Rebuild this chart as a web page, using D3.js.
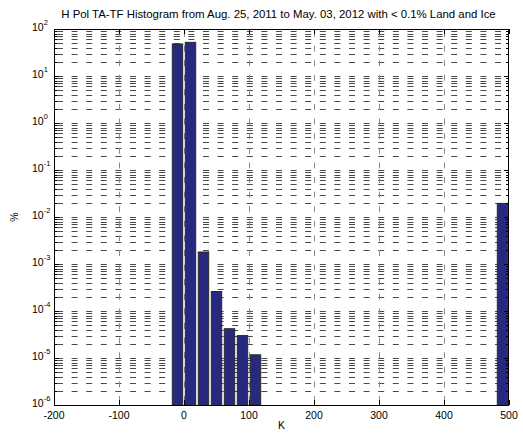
<!DOCTYPE html>
<html><head><meta charset="utf-8">
<script src="https://cdn.jsdelivr.net/npm/d3@7"></script>
<style>
html,body{margin:0;padding:0;background:#fff;}
svg{display:block;font-family:"Liberation Sans",Arial,sans-serif;}
</style></head>
<body>
<svg id="chart" width="523" height="435"></svg>
<script>
// Data
const binCenters = [-10, 10, 30, 50, 70, 90, 110, 490];
const percentValues = [48, 52, 1.8e-3, 2.6e-4, 4.2e-5, 3.0e-5, 1.17e-5, 1.95e-2];
const xTicks = [-200, -100, 0, 100, 200, 300, 400, 500];
const yDecades = [-6, -5, -4, -3, -2, -1, 0, 1, 2];
const titleText = "H Pol TA-TF Histogram from Aug. 25, 2011 to May. 03, 2012 with < 0.1% Land and Ice";
const xLabel = "K";
const yLabel = "%";
const binWidth = 20;

const svg = d3.select("#chart");
const L = 54, R = 509, T = 29, B = 405;
const x = d3.scaleLinear().domain([-200, 500]).range([L, R]);
const y = d3.scaleLog().domain([1e-6, 100]).range([B, T]);

const minor = [];
for (let e = -6; e < 2; e++) for (let m = 2; m <= 9; m++) minor.push(m * Math.pow(10, e));
const major = yDecades.map(e => Math.pow(10, e)).filter(v => v > 1e-6 && v < 100);

const g = svg.append("g");
g.selectAll("line.hg").data(minor.concat(major)).enter().append("line")
  .attr("x1", L + 3).attr("x2", R)
  .attr("y1", d => Math.round(y(d)) + 0.5).attr("y2", d => Math.round(y(d)) + 0.5)
  .attr("stroke", "#4a4a4a").attr("stroke-width", 1)
  .attr("stroke-dasharray", "6,8.6");
g.selectAll("line.vg").data(xTicks.slice(1, -1)).enter().append("line")
  .attr("x1", d => Math.round(x(d)) + 0.5).attr("x2", d => Math.round(x(d)) + 0.5)
  .attr("y1", T + 2).attr("y2", B)
  .attr("stroke", "#8a8a8a").attr("stroke-width", 1)
  .attr("stroke-dasharray", "6,8.6");

const halfW = binWidth * 0.4;
g.selectAll("rect.bar").data(binCenters.map((c, i) => ({c, v: percentValues[i]}))).enter().append("rect")
  .attr("x", d => x(d.c - halfW))
  .attr("width", d => x(d.c + halfW) - x(d.c - halfW))
  .attr("y", d => y(d.v))
  .attr("height", d => B - y(d.v))
  .attr("fill", "#27297f").attr("stroke", "#2b2b2b").attr("stroke-width", 1);

const tk = svg.append("g").attr("stroke", "#000").attr("stroke-width", 1);
minor.forEach(v => {
  const yy = Math.round(y(v)) + 0.5;
  tk.append("line").attr("x1", L).attr("x2", L + 3).attr("y1", yy).attr("y2", yy);
  tk.append("line").attr("x1", R - 3).attr("x2", R).attr("y1", yy).attr("y2", yy);
});
major.forEach(v => {
  const yy = Math.round(y(v)) + 0.5;
  tk.append("line").attr("x1", L).attr("x2", L + 5).attr("y1", yy).attr("y2", yy);
  tk.append("line").attr("x1", R - 5).attr("x2", R).attr("y1", yy).attr("y2", yy);
});
xTicks.forEach(v => {
  const xx = Math.round(x(v)) + 0.5;
  tk.append("line").attr("x1", xx).attr("x2", xx).attr("y1", B).attr("y2", B - 5);
  tk.append("line").attr("x1", xx).attr("x2", xx).attr("y1", T).attr("y2", T + 5);
});

svg.append("rect").attr("x", L + 0.5).attr("y", T + 0.5).attr("width", R - L - 1).attr("height", B - T)
  .attr("fill", "none").attr("stroke", "#000").attr("stroke-width", 1);

svg.append("g").selectAll("text").data(xTicks).enter().append("text")
  .attr("x", d => x(d)).attr("y", B + 14)
  .attr("text-anchor", "middle").attr("font-size", 10.5).attr("fill", "#000")
  .text(d => d);

const yl = svg.append("g").selectAll("text").data(yDecades).enter().append("text")
  .attr("x", 32).attr("y", d => y(Math.pow(10, d)) + 2)
  .attr("text-anchor", "start").attr("font-size", 10.5).attr("fill", "#000");
yl.append("tspan").text("10");
yl.append("tspan").attr("dy", -6).attr("font-size", 7.5).text(d => d);

svg.append("text").attr("x", (L + R) / 2 - 3).attr("y", 18).attr("text-anchor", "middle")
  .attr("font-size", 11.4).attr("fill", "#000").text(titleText);
svg.append("text").attr("x", (L + R) / 2).attr("y", 429).attr("text-anchor", "middle")
  .attr("font-size", 10.5).attr("fill", "#000").text(xLabel);
svg.append("text").attr("transform", `translate(18,${(T + B) / 2}) rotate(-90)`).attr("text-anchor", "middle")
  .attr("font-size", 10.5).attr("fill", "#000").text(yLabel);
</script>
</body></html>
